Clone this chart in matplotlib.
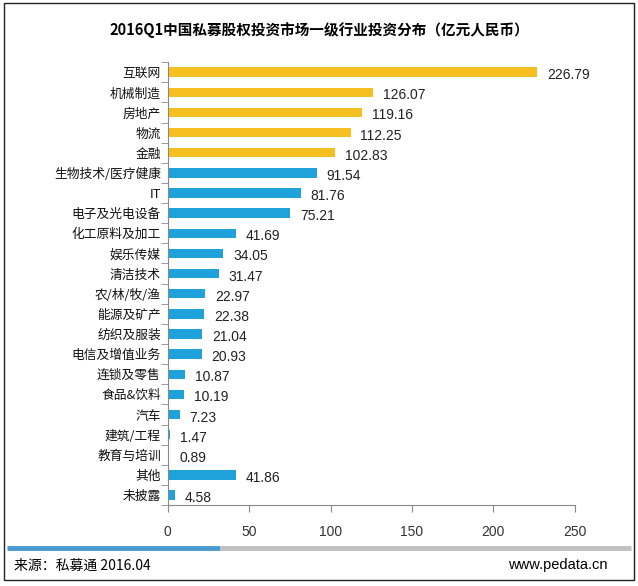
import matplotlib.pyplot as plt
from matplotlib.lines import Line2D
from matplotlib.patches import Rectangle

plt.rcParams["font.family"] = ["Noto Sans CJK SC", "DejaVu Sans"]

categories = ["互联网", "机械制造", "房地产", "物流", "金融", "生物技术/医疗健康", "IT",
              "电子及光电设备", "化工原料及加工", "娱乐传媒", "清洁技术", "农/林/牧/渔",
              "能源及矿产", "纺织及服装", "电信及增值业务", "连锁及零售", "食品&饮料",
              "汽车", "建筑/工程", "教育与培训", "其他", "未披露"]
values = [226.79, 126.07, 119.16, 112.25, 102.83, 91.54, 81.76, 75.21, 41.69, 34.05,
          31.47, 22.97, 22.38, 21.04, 20.93, 10.87, 10.19, 7.23, 1.47, 0.89, 41.86, 4.58]
n_top = 5

GOLD = "#F5BF22"
BLUE = "#1FA2DC"
NUM_FONT = ["Liberation Sans", "DejaVu Sans"]

fig = plt.figure(figsize=(6.38, 5.86), dpi=100)
ax = fig.add_axes([0.263, 0.138, 0.638, 0.756])

colors = [GOLD if i < n_top else BLUE for i in range(len(values))]
ypos = list(range(len(values)))
ax.barh(ypos, values, height=0.47, color=colors)

for y, v in zip(ypos, values):
    ax.text(v + 6, y + 0.15, f"{v:.2f}", va="center", ha="left", fontsize=10,
            family=NUM_FONT, color="#222222")

ax.set_xlim(0, 250)
ax.set_ylim(len(values) - 0.5, -0.5)
ax.set_xticks([0, 50, 100, 150, 200, 250])
ax.tick_params(axis="x", length=5, color="#888888", labelsize=10, labelcolor="#333333", pad=9)
for lbl in ax.get_xticklabels():
    lbl.set_family(NUM_FONT)
ax.set_yticks(ypos)
ax.set_yticklabels(categories, fontsize=9.2, color="#111111")
ax.tick_params(axis="y", length=0, pad=5)
ax.set_yticks([y - 0.5 for y in ypos] + [len(values) - 0.5], minor=True)
ax.tick_params(axis="y", which="minor", length=5, color="#888888")
for s in ["top", "right"]:
    ax.spines[s].set_visible(False)
for s in ["left", "bottom"]:
    ax.spines[s].set_color("#888888")

fig.text(0.5, 0.948, "2016Q1中国私募股权投资市场一级行业投资分布（亿元人民币）",
         ha="center", va="center", fontsize=10.5, fontweight="bold")

# footer bars
fig.add_artist(Line2D([0.011, 0.345], [0.065, 0.065], color="#4A9BD0", lw=3.5,
                      transform=fig.transFigure, solid_capstyle="butt"))
fig.add_artist(Line2D([0.345, 0.989], [0.065, 0.065], color="#C0C0C0", lw=3.5,
                      transform=fig.transFigure, solid_capstyle="butt"))
fig.text(0.022, 0.035, "来源：私募通 2016.04", ha="left", va="center", fontsize=10)
fig.text(0.952, 0.035, "www.pedata.cn", ha="right", va="center", fontsize=10.5,
         family=NUM_FONT)

fig.add_artist(Rectangle((0.006, 0.01), 0.987, 0.985, transform=fig.transFigure,
                         fill=False, edgecolor="#222222", lw=1))

fig.savefig("out.png", dpi=100)
